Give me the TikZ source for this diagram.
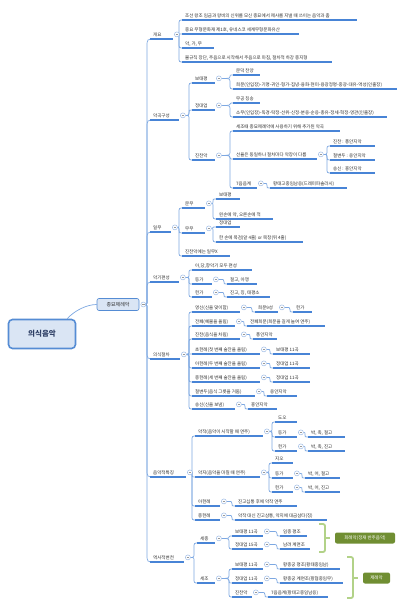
\documentclass[tikz,border=0pt]{standalone}
\usepackage{fontspec}
\setmainfont{Noto Sans CJK KR}
\usetikzlibrary{calc}
\definecolor{ublue}{RGB}{72,132,214}
\definecolor{cblue}{RGB}{125,168,226}
\definecolor{ccol}{RGB}{150,182,228}
\definecolor{txt}{RGB}{45,45,45}
\definecolor{rtxt}{RGB}{45,62,100}
\definecolor{rootfill}{RGB}{218,229,244}
\definecolor{rootdraw}{RGB}{85,140,212}
\definecolor{brkgreen}{RGB}{178,210,136}
\definecolor{sumfill}{RGB}{112,142,50}
\pgfdeclarelayer{bg}
\pgfsetlayers{bg,main}
\newcommand\fs{\fontsize{4.5pt}{5pt}\selectfont}
\tikzset{
 uline/.style={draw=ublue, line width=1.1pt},
 cline/.style={draw=cblue, line width=0.7pt},
 topic/.style={anchor=south west, inner xsep=0pt, inner ysep=1.6pt, text height=3.5pt, text depth=1.1pt, font=\fs, text=txt,
   append after command={(\tikzlastnode.south west) edge[uline] (\tikzlastnode.south east)}},
 ccirc/.style={circle, draw=ccol, fill=white, line width=0.45pt, minimum size=5pt, inner sep=0pt,
   path picture={\draw[gray!80, line width=0.4pt] ([xshift=-1.4pt]path picture bounding box.center) -- ([xshift=1.4pt]path picture bounding box.center);}},
 brk/.style={draw=brkgreen, line width=1.8pt, rounded corners=2pt},
 sumbox/.style={fill=sumfill, rounded corners=2pt, text=white, font=\fs, inner sep=0pt, minimum height=11pt},
 rootbox/.style={draw=rootdraw, fill=rootfill, line width=1.6pt, rounded corners=4pt, minimum width=67pt, minimum height=29pt, inner sep=0pt, font=\fontsize{7.5pt}{8pt}\selectfont\bfseries, text=rtxt},
 mainbox/.style={draw=rootdraw, fill=rootfill, line width=0.6pt, rounded corners=2pt, minimum width=42pt, minimum height=12pt, inner sep=0pt, font=\fontsize{5pt}{6pt}\selectfont, text=txt},
}
\newcommand\tp[5]{\node[topic] (#1) at (#2,#4) {\makebox[\dimexpr#3pt-#2pt\relax][l]{\hspace{3pt}#5}};}
\newcommand\cc[1]{\node[ccirc] (#1c) at ([xshift=3.5pt,yshift=4.6pt]#1.south east) {};}
\newcommand\conn[3][4.5]{%
  \draw[cline] let \p1=(#2.east), \p2=(#3.south west),
    \n1={min(#1,abs(\y2-\y1)/2)},
    \n2={\n1*(\y2-\y1)/max(abs(\y2-\y1),0.01)}
  in (\p1) .. controls (\x2-3pt,\y1) .. (\x2-3pt,\y1+\n2)
     -- (\x2-3pt,\y2-\n2) .. controls (\x2-3pt,\y2) .. (\x2-3pt+\n1,\y2) -- (\p2);}
\begin{document}
\begin{tikzpicture}[x=1pt,y=-1pt]
\begin{pgfonlayer}{bg}
\fill[white] (0,0) rectangle (406,609);
\end{pgfonlayer}
\useasboundingbox (0,0) rectangle (406,609);

% root and main topic
\node[rootbox] (root) at (42,334) {의식음악};
\node[mainbox] (zj) at (118,304.5) {종묘제례악};
\node[ccirc] (zjc) at ([xshift=4pt]zj.east) {};

% level 1
\tp{k1}{150}{173}{39}{개요} \cc{k1}
\tp{k2}{150}{179}{120}{악곡구성} \cc{k2}
\tp{k3}{150}{171}{232}{일무} \cc{k3}
\tp{k4}{150}{179}{282}{악기편성} \cc{k4}
\tp{k5}{150}{180}{359}{의식절차} \cc{k5}
\tp{k6}{150}{186}{477}{음악적특징} \cc{k6}
\tp{k7}{150}{184}{562}{역사적변천} \cc{k7}

% 개요
\tp{g1}{182}{357}{20}{조선 왕조 임금과 왕비의 신위를 모신 종묘에서 제사를 지낼 때 쓰이는 음악과 춤}
\tp{g2}{182}{299}{34}{중요 무형문화재 제1호, 유네스코 세계무형문화유산}
\tp{g3}{182}{214}{48}{악, 가, 무}
\tp{g4}{182}{332}{62}{불규칙 장단, 주음으로 시작해서 주음으로 마침, 절차적 하강 종지형}

% 악곡구성
\tp{b1}{192}{215}{83}{보태평} \cc{b1}
\tp{b2}{192}{215}{110}{정대업} \cc{b2}
\tp{b3}{192}{215}{160}{진찬악} \cc{b3}
\tp{b11}{233}{260}{75}{문덕 찬양}
\tp{b12}{233}{397}{89}{희문(인입장)-기명-귀인-형가-집녕-융화-현미-용광정명-중광-대유-역성(인출장)}
\tp{b21}{233}{260}{103}{무공 칭송}
\tp{b22}{233}{387}{117}{소무(인입장)-독경-탁정-선위-신정-분웅-순응-총유-정세-혁정-영관(인출장)}
\tp{b31}{233}{340}{131}{세조때 종묘제례악에 사용하기 위해 추가된 악곡}
\tp{b32}{233}{317}{159}{선율은 동일하나 절차마다 악장이 다름} \cc{b32}
\tp{b33}{233}{257}{188}{7음음계} \cc{b33}
\tp{b321}{330}{375}{146}{진찬 : 풍안지악}
\tp{b322}{330}{375}{160}{철변두 : 옹안지악}
\tp{b323}{330}{375}{173}{송신 : 흥안지악}
\tp{b331}{270}{347}{188}{황태고중임남응(드레미파솔라시)}

% 일무
\tp{m1}{182}{205}{208}{문무} \cc{m1}
\tp{m2}{182}{205}{233}{무무} \cc{m2}
\tp{m3}{182}{230}{256}{진찬악에는 일무X}
\tp{m11}{216}{240}{199}{보태평}
\tp{m12}{216}{273}{219}{왼손에 약, 오른손에 적}
\tp{m21}{216}{240}{227}{정대업}
\tp{m22}{216}{303}{242}{한 손에 목검(앞 4줄) or 목창(뒤 4줄)}

% 악기편성
\tp{a1}{192}{252}{270}{아,당,향악기 모두 편성}
\tp{a2}{192}{212}{284}{등가} \cc{a2}
\tp{a3}{192}{212}{297}{헌가} \cc{a3}
\tp{a21}{227}{257}{284}{절고, 아쟁}
\tp{a31}{227}{270}{297}{진고, 징, 태평소}

% 의식절차
\tp{s1}{192}{240}{312}{영신(신을 맞이함)} \cc{s1}
\tp{s11}{255}{278}{312}{희문9성} \cc{s11}
\tp{s111}{293}{312}{312}{헌가}
\tp{s2}{192}{235}{326}{전폐(예물을 올림)} \cc{s2}
\tp{s21}{247}{325}{326}{전폐희문(희문을 길게 늘여 연주)}
\tp{s3}{192}{240}{339}{진찬(음식을 차림)} \cc{s3}
\tp{s31}{253}{277}{339}{풍안지악}
\tp{s4}{192}{260}{354}{초헌례(첫 번째 술잔을 올림)} \cc{s4}
\tp{s41}{273}{310}{354}{보태평 11곡}
\tp{s5}{192}{260}{368}{아헌례(두 번째 술잔을 올림)} \cc{s5}
\tp{s51}{273}{310}{368}{정대업 11곡}
\tp{s6}{192}{260}{382}{종헌례(세 번째 술잔을 올림)} \cc{s6}
\tp{s61}{273}{310}{382}{정대업 11곡}
\tp{s7}{192}{255}{396}{철변두(음식 그릇을 거둠)} \cc{s7}
\tp{s71}{267}{297}{396}{옹안지악}
\tp{s8}{192}{235}{409}{송신(신을 보냄)} \cc{s8}
\tp{s81}{248}{277}{409}{흥안지악}

% 음악적특징
\tp{t1}{195}{263}{436}{악작(음악이 시작할 때 연주)} \cc{t1}
\tp{t11}{275}{297}{422}{도오}
\tp{t12}{275}{297}{437}{등가} \cc{t12}
\tp{t13}{275}{297}{451}{헌가} \cc{t13}
\tp{t121}{308}{345}{437}{박, 축, 절고}
\tp{t131}{308}{345}{451}{박, 축, 진고}
\tp{t2}{195}{260}{477}{악지(음악을 마칠 때 연주)} \cc{t2}
\tp{t21}{272}{293}{463}{지오}
\tp{t22}{272}{293}{478}{등가} \cc{t22}
\tp{t23}{272}{293}{492}{헌가} \cc{t23}
\tp{t221}{305}{340}{478}{박, 어, 절고}
\tp{t231}{305}{340}{492}{박, 어, 진고}
\tp{t3}{195}{220}{506}{아헌례} \cc{t3}
\tp{t31}{235}{297}{506}{진고십통 후에 악작 연주}
\tp{t4}{195}{220}{520}{종헌례} \cc{t4}
\tp{t41}{235}{327}{520}{악작 대신 진고삼통, 악지에 대금삼타(징)}

% 역사적변천
\tp{h1}{197}{215}{543}{세종} \cc{h1}
\tp{h11}{232}{263}{536}{보태평 11곡} \cc{h11}
\tp{h111}{280}{307}{536}{임종 평조}
\tp{h12}{232}{263}{549}{정대업 15곡} \cc{h12}
\tp{h121}{280}{310}{549}{남려 계면조}
\tp{h2}{197}{215}{583}{세조} \cc{h2}
\tp{h21}{232}{263}{569}{보태평 11곡} \cc{h21}
\tp{h211}{280}{340}{569}{황종궁 평조(황태중임남)}
\tp{h22}{232}{263}{583}{정대업 11곡} \cc{h22}
\tp{h221}{280}{343}{583}{황종궁 계면조(황협중임무)}
\tp{h23}{232}{252}{597}{진찬악} \cc{h23}
\tp{h231}{268}{328}{597}{7음음계(황태고중임남응)}

% summaries
\draw[brk] (319,524) -- (325,524) -- (325,552) -- (319,552);
\coordinate (br1) at (330,538);
\draw[brk] (325,538) -- (br1);
\node[sumbox, minimum width=60pt] (sum1) at (365,538) {회례악(정재 반주음악)};
\draw[brk] (347,557) -- (353,557) -- (353,598) -- (347,598);
\coordinate (br2) at (358,578);
\draw[brk] (353,578) -- (br2);
\node[sumbox, minimum width=27pt] (sum2) at (376.5,578) {제례악};

% connectors
\begin{pgfonlayer}{bg}
\draw[cline] ([xshift=-9pt]root.north east) .. controls ([xshift=-2pt,yshift=8pt]root.north east) and ([xshift=-10pt]zj.west) .. (zj.west);
\foreach \c in {k1,k2,k3,k4,k5,k6,k7} {\conn[8]{zjc}{\c}}
\foreach \c in {g1,g2,g3,g4} {\conn{k1c}{\c}}
\foreach \c in {b1,b2,b3} {\conn{k2c}{\c}}
\foreach \c in {b11,b12} {\conn{b1c}{\c}}
\foreach \c in {b21,b22} {\conn{b2c}{\c}}
\foreach \c in {b31,b32,b33} {\conn{b3c}{\c}}
\foreach \c in {b321,b322,b323} {\conn{b32c}{\c}}
\conn{b33c}{b331}
\foreach \c in {m1,m2,m3} {\conn{k3c}{\c}}
\foreach \c in {m11,m12} {\conn{m1c}{\c}}
\foreach \c in {m21,m22} {\conn{m2c}{\c}}
\foreach \c in {a1,a2,a3} {\conn{k4c}{\c}}
\conn{a2c}{a21}
\conn{a3c}{a31}
\foreach \c in {s1,s2,s3,s4,s5,s6,s7,s8} {\conn{k5c}{\c}}
\conn{s1c}{s11}
\conn{s11c}{s111}
\conn{s2c}{s21}
\conn{s3c}{s31}
\conn{s4c}{s41}
\conn{s5c}{s51}
\conn{s6c}{s61}
\conn{s7c}{s71}
\conn{s8c}{s81}
\foreach \c in {t1,t2,t3,t4} {\conn{k6c}{\c}}
\foreach \c in {t11,t12,t13} {\conn{t1c}{\c}}
\conn{t12c}{t121}
\conn{t13c}{t131}
\foreach \c in {t21,t22,t23} {\conn{t2c}{\c}}
\conn{t22c}{t221}
\conn{t23c}{t231}
\conn{t3c}{t31}
\conn{t4c}{t41}
\foreach \c in {h1,h2} {\conn{k7c}{\c}}
\foreach \c in {h11,h12} {\conn{h1c}{\c}}
\conn{h11c}{h111}
\conn{h12c}{h121}
\foreach \c in {h21,h22,h23} {\conn{h2c}{\c}}
\conn{h21c}{h211}
\conn{h22c}{h221}
\conn{h23c}{h231}
\end{pgfonlayer}
\end{tikzpicture}
\end{document}
